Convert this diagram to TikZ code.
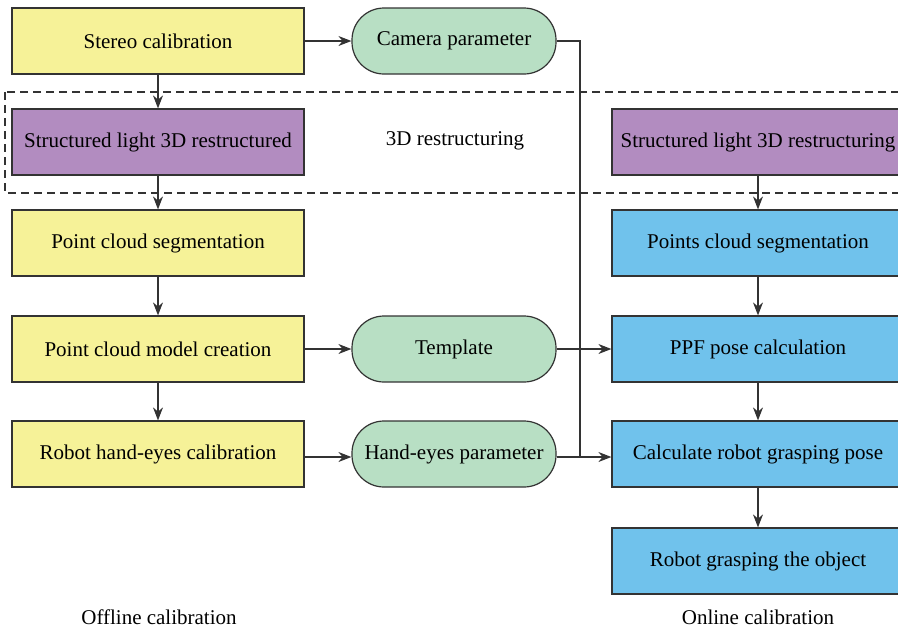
\documentclass[tikz,border=0pt]{standalone}
\usepackage{fontspec}
\setmainfont{Liberation Serif}
\usetikzlibrary{arrows.meta}
\definecolor{offyellow}{RGB}{246,242,152}
\definecolor{restrpurple}{RGB}{178,140,192}
\definecolor{paramgreen}{RGB}{184,223,196}
\definecolor{onblue}{RGB}{112,194,236}
\tikzstyle{flow}=[line width=1.2pt,draw=black!80]
\tikzstyle{off}=[rectangle, draw, fill=offyellow, minimum width=292pt, minimum height=66pt, inner sep=0pt]
\tikzstyle{rst}=[rectangle, draw, fill=restrpurple, minimum width=292pt, minimum height=66pt, inner sep=0pt]
\tikzstyle{par}=[rectangle, rounded corners=32pt, draw, fill=paramgreen, minimum width=204pt, minimum height=66pt, inner sep=0pt]
\tikzstyle{on}=[rectangle, draw, fill=onblue, minimum width=292pt, minimum height=66pt, inner sep=0pt]
\tikzstyle{lbl}=[inner sep=0pt]
\tikzstyle{edge}=[-{Stealth[length=13pt,width=10pt]}]
\tikzstyle{feed}=[-]
\begin{document}
\begin{tikzpicture}[flow, x=1pt, y=-1pt, font=\fontsize{21}{24}\selectfont]
				\useasboundingbox (0,0) rectangle (898,633);
				\clip (0,0) rectangle (898,633);
				
				%The dashed frame
				\draw[dashed, dash pattern=on 8pt off 5pt] (5,92) rectangle (910,193);
				\draw (455,141) node[lbl] (restr) {3D restructuring};
				
				%The offline column
				\draw (158,41) node[off] (s1) {Stereo calibration};
				\draw (158,142) node[rst] (s2) {Structured light 3D restructured};
				\draw (158,243) node[off] (s3) {Point cloud segmentation};
				\draw (158,349) node[off] (s4) {Point cloud model creation};
				\draw (158,454) node[off] (s5) {Robot hand-eyes calibration};
				
				%The parameters
				\draw (454,41) node[par] (p1) {Camera parameter};
				\draw (454,349) node[par] (p2) {Template};
				\draw (454,454) node[par] (p3) {Hand-eyes parameter};
				
				%The online column
				\draw (758,142) node[rst] (o1) {Structured light 3D restructuring};
				\draw (758,243) node[on] (o2) {Points cloud segmentation};
				\draw (758,349) node[on] (o3) {PPF pose calculation};
				\draw (758,454) node[on] (o4) {Calculate robot grasping pose};
				\draw (758,561) node[on] (o5) {Robot grasping the object};
				\coordinate (c1) at (580,457);
				
				%The captions
				\draw (159,617) node[lbl] (offcap) {Offline calibration};
				\draw (758,617) node[lbl] (oncap) {Online calibration};
				
				\draw[edge] (s1) -- (s2);
				\draw[edge] (s2) -- (s3);
				\draw[edge] (s3) -- (s4);
				\draw[edge] (s4) -- (s5);
				
				\draw[edge] (s1) -- (p1);
				\draw[edge] (s4) -- (p2);
				\draw[edge] (s5.east |- c1) -- (p3.west |- c1);
				
				\draw[feed] (p1.east) -| (c1);
				\draw[edge] (p2) -- (o3);
				\draw[edge] (p3.east |- c1) -- (o4.west |- c1);
				
				\draw[edge] (o1) -- (o2);
				\draw[edge] (o2) -- (o3);
				\draw[edge] (o3) -- (o4);
				\draw[edge] (o4) -- (o5);
			\end{tikzpicture}
\end{document}
